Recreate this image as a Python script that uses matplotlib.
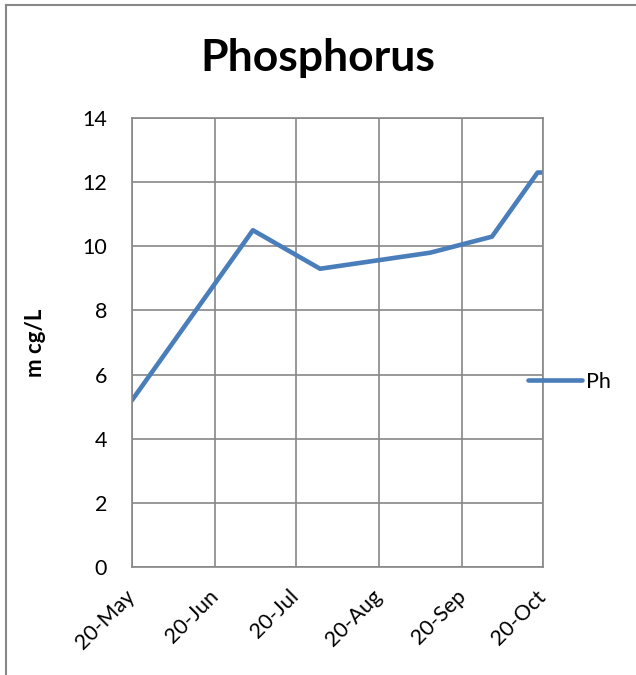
import datetime as dt
import matplotlib
matplotlib.use("Agg")
import matplotlib.pyplot as plt
import matplotlib.dates as mdates
from matplotlib.lines import Line2D

plt.rcParams['font.family'] = ['Lato', 'DejaVu Sans']

# sample dates and phosphorus readings (m cg/L)
dates = [dt.date(2013, 5, 20), dt.date(2013, 7, 4), dt.date(2013, 7, 29),
         dt.date(2013, 9, 8), dt.date(2013, 10, 1), dt.date(2013, 10, 18),
         dt.date(2013, 10, 20)]
ph = [5.2, 10.5, 9.3, 9.8, 10.3, 12.3, 12.3]
tick_dates = [dt.date(2013, m, 20) for m in range(5, 11)]
y_ticks = [0, 2, 4, 6, 8, 10, 12, 14]

grey = '#878787'
blue = '#4a7ebb'

fig = plt.figure(figsize=(6.36, 6.75), dpi=100)
ax = fig.add_axes([132 / 636, 1 - 567 / 675, (543 - 132) / 636, (567 - 118) / 675])

ax.plot(dates, ph, color=blue, lw=3.3, solid_capstyle='round',
        solid_joinstyle='round', label='Ph')

ax.set_xlim(tick_dates[0], tick_dates[-1])
ax.set_ylim(0, 14)
ax.set_xticks(tick_dates)
ax.xaxis.set_major_formatter(mdates.DateFormatter('%d-%b'))
ax.set_yticks(y_ticks)
ax.grid(True, color=grey, lw=1.2)
ax.set_axisbelow(True)
for s in ax.spines.values():
    s.set_color(grey)
    s.set_linewidth(1.2)
ax.tick_params(length=0, labelsize=15.5)
ax.tick_params(axis='y', pad=18)
ax.tick_params(axis='x', pad=19)
for lab in ax.get_xticklabels():
    lab.set_rotation(45)
    lab.set_rotation_mode('anchor')
    lab.set_ha('right')
    lab.set_va('center')

ax.set_ylabel('m cg/L', fontsize=16, fontweight='bold', labelpad=26)
fig.text(0.5, 1 - 58 / 675, 'Phosphorus', ha='center', va='center',
         fontsize=32, fontweight='bold')

fig.legend(loc='center left', bbox_to_anchor=(528 / 636, 1 - 382 / 675),
           frameon=False, fontsize=15.5, handlelength=2.5, handletextpad=0.2,
           borderpad=0, borderaxespad=0)

# outer chart border (left and top edges visible)
fig.add_artist(Line2D([6 / 636, 6 / 636], [0, 1 - 5 / 675], color=grey, lw=1.5))
fig.add_artist(Line2D([6 / 636, 1], [1 - 5 / 675, 1 - 5 / 675], color=grey, lw=1.5))

fig.savefig('out.png', dpi=100)
